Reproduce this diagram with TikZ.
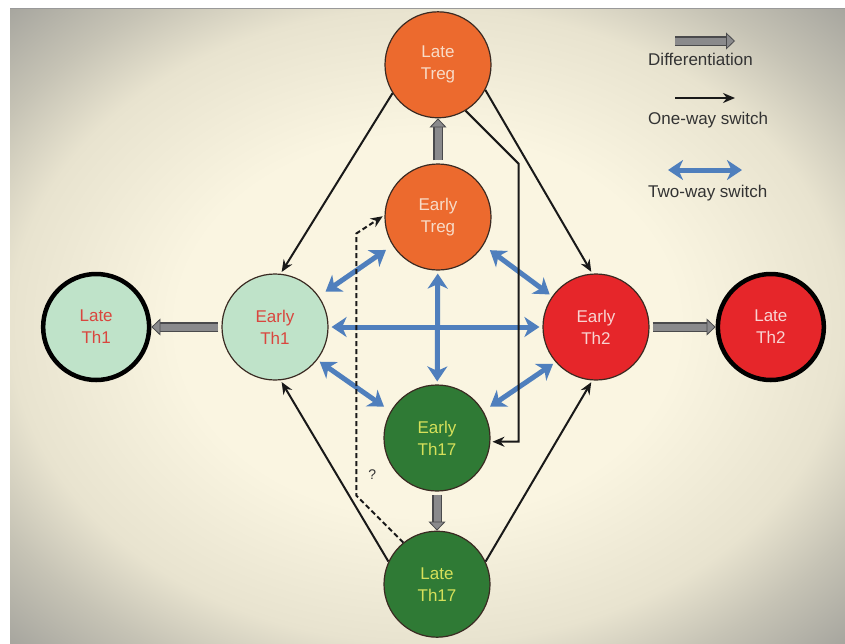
\documentclass[tikz,border=0pt]{standalone}
\usepackage{fontspec}
\setmainfont{Liberation Sans}
\usetikzlibrary{positioning,arrows.meta}

\definecolor{bgcream}{HTML}{FAF5E1}
\definecolor{bgmid}{HTML}{E8E3CF}
\definecolor{bgdark}{HTML}{C6C3B5}
\definecolor{bgedge}{HTML}{A6A59E}
\definecolor{celledge}{HTML}{3A2A22}
\definecolor{tregfill}{HTML}{EC6A2E}
\definecolor{tregtext}{HTML}{F8DCC8}
\definecolor{thonefill}{HTML}{BFE3C9}
\definecolor{thonetext}{HTML}{D9463E}
\definecolor{thtwofill}{HTML}{E6262A}
\definecolor{thtwotext}{HTML}{F8D4D2}
\definecolor{thsevfill}{HTML}{2F7A35}
\definecolor{thsevtext}{HTML}{D6E05A}
\definecolor{diffgray}{HTML}{8A8A8C}
\definecolor{diffedge}{HTML}{4A4A4C}
\definecolor{twblue}{HTML}{4F7FBD}
\definecolor{legtext}{HTML}{333333}

\pgfdeclareradialshading{vignette}{\pgfpoint{0bp}{0bp}}{%
  color(0bp)=(bgcream); color(15bp)=(bgcream); color(25bp)=(bgmid);
  color(30bp)=(bgdark); color(35.5bp)=(bgedge); color(50bp)=(bgedge)}

\tikzset{
  cell/.style    = {circle, draw=celledge, line width=1.2pt, minimum size=106pt,
                    inner sep=0pt, align=center, font=\fontsize{17}{22}\selectfont},
  treg/.style    = {cell, fill=tregfill,  text=tregtext},
  thone/.style   = {cell, fill=thonefill, text=thonetext},
  thtwo/.style   = {cell, fill=thtwofill, text=thtwotext},
  thsev/.style   = {cell, fill=thsevfill, text=thsevtext},
  late/.style    = {draw=black, line width=4.5pt},
  legend/.style  = {anchor=west, inner sep=0pt, text=legtext,
                    font=\fontsize{17}{20}\selectfont},
  query/.style   = {text=legtext, font=\fontsize{14}{16}\selectfont},
  diffarr/.style = {draw=diffgray, line width=0.8pt, shorten <=3pt,
                    -{Triangle[length=9pt,width=17pt,color=diffedge,fill=diffgray]},
                    preaction={draw=diffedge, line width=9.5pt, -, shorten >=8pt},
                    preaction={draw=diffgray, line width=7pt, -, shorten >=7pt}},
  oneway/.style  = {draw=black!90, line width=2pt, shorten >=2pt,
                    -{Stealth[length=12pt,width=10pt]}},
  maybe/.style   = {oneway, dash pattern=on 5pt off 3pt},
  twoway/.style  = {draw=twblue, line width=5pt, shorten <=3pt, shorten >=3pt,
                    {Stealth[length=15pt,width=20pt,inset=4.5pt]}-{Stealth[length=15pt,width=20pt,inset=4.5pt]}}
}

\begin{document}
\begin{tikzpicture}[x=1pt, y=-1pt]

  \useasboundingbox (0,0) rectangle (845,643);
  \fill[white] (0,0) rectangle (845,643);
  \shade[shading=vignette] (10,8) rectangle (845,643);
  \draw[gray!80, line width=1pt] (10,8) -- (845,8);

  % early states in the middle, late states outside them
  \node[treg]  (tregE) at (438,217) {Early\\Treg};
  \node[thone] (th1E)  at (275,327) {Early\\Th1};
  \node[thtwo] (th2E)  at (596,327) {Early\\Th2};
  \node[thsev] (th17E) at (437,438) {Early\\Th17};

  \node[treg, above=45pt of tregE]        (tregL) {Late\\Treg};
  \node[thone, late, left=70pt of th1E]   (th1L)  {Late\\Th1};
  \node[thtwo, late, right=66pt of th2E]  (th2L)  {Late\\Th2};
  \node[thsev, below=39pt of th17E]       (th17L) {Late\\Th17};

  % differentiation
  \draw[diffarr] (tregE) -- (tregL);
  \draw[diffarr] (th1E)  -- (th1L);
  \draw[diffarr] (th2E)  -- (th2L);
  \draw[diffarr] (th17E) -- (th17L);

  % two-way switches
  \draw[twoway] (th1E) -- (th2E);
  \draw[twoway] (tregE) -- (th17E);
  \draw[twoway, shorten <=8pt, shorten >=8pt] (th1E.35) -- (tregE.212);
  \draw[twoway, shorten <=8pt, shorten >=3pt] (tregE.-32) -- (th2E.145);
  \draw[twoway, shorten >=8pt] (th1E.-38) -- (th17E.150);
  \draw[twoway, shorten <=8pt] (th17E.30) -- (th2E.221);

  % one-way switches
  \draw[oneway] (tregL.212) -- (th1E.84);
  \draw[oneway] (tregL.-28) -- (th2E.94);
  \draw[oneway] (tregL.-59) -- ++(53,53) |- (th17E.-4);
  \draw[oneway] (th17L.155) -- (th1E.-84);
  \draw[oneway] (th17L.25)  -- (th2E.-94);
  \draw[maybe]  (th17L.129) -- ++(-47,-47) node[query, xshift=16pt, yshift=21pt] {?}
                -- ++(0,-262) -- (tregE.178);

  % legend
  \node[legend] (lgdiff) at (648,59)  {Differentiation};
  \node[legend] (lgone)  at (648,120) {One-way switch};
  \node[legend] (lgtwo)  at (648,193) {Two-way switch};
  \coordinate (lgdA) at (675,41);  \coordinate (lgdB) at (735,41);
  \coordinate (lgoA) at (675,98);  \coordinate (lgoB) at (735,98);
  \coordinate (lgtA) at (668,170); \coordinate (lgtB) at (742,170);
  \draw[diffarr, shorten <=0pt] (lgdA) -- (lgdB);
  \draw[oneway, shorten >=0pt]  (lgoA) -- (lgoB);
  \draw[twoway, shorten <=0pt, shorten >=0pt] (lgtA) -- (lgtB);

\end{tikzpicture}
\end{document}
